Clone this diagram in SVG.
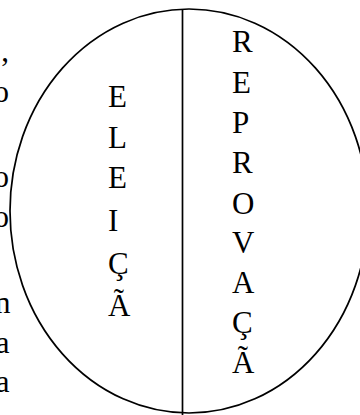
<svg xmlns="http://www.w3.org/2000/svg" width="360" height="415" viewBox="0 0 360 415">
<style>
text{font-family:'Liberation Serif','Times New Roman',serif;font-size:31px;fill:#000}
.c{text-anchor:end}
.ln{fill:none;stroke:#000;stroke-width:1.7}
</style>
<rect width="360" height="415" fill="#fff"/>
<g id="margin-text">
<text class="c" x="9" y="61">,</text>
<text class="c" x="9" y="102">o</text>
<text class="c" x="9" y="187">o</text>
<text class="c" x="9" y="227">o</text>
<text class="c" x="10.5" y="313">n</text>
<text class="c" x="9.5" y="353">a</text>
<text class="c" x="9.5" y="392">a</text>
</g>
<g id="shape">
<ellipse class="ln" cx="189" cy="211" rx="179" ry="202"/>
<line class="ln" x1="182.5" y1="9" x2="182.5" y2="415"/>
</g>
<g id="eleicao">
<text x="108" y="107">E</text>
<text x="108" y="148">L</text>
<text x="108" y="188">E</text>
<text x="108" y="231">I</text>
<text x="108" y="274">Ç</text>
<text x="108" y="316">Ã</text>
</g>
<g id="reprovacao">
<text x="232" y="52">R</text>
<text x="232" y="93">E</text>
<text x="232" y="133">P</text>
<text x="232" y="173">R</text>
<text x="232" y="214">O</text>
<text x="232" y="253">V</text>
<text x="232" y="293">A</text>
<text x="232" y="333">Ç</text>
<text x="232" y="373">Ã</text>
</g>
</svg>
